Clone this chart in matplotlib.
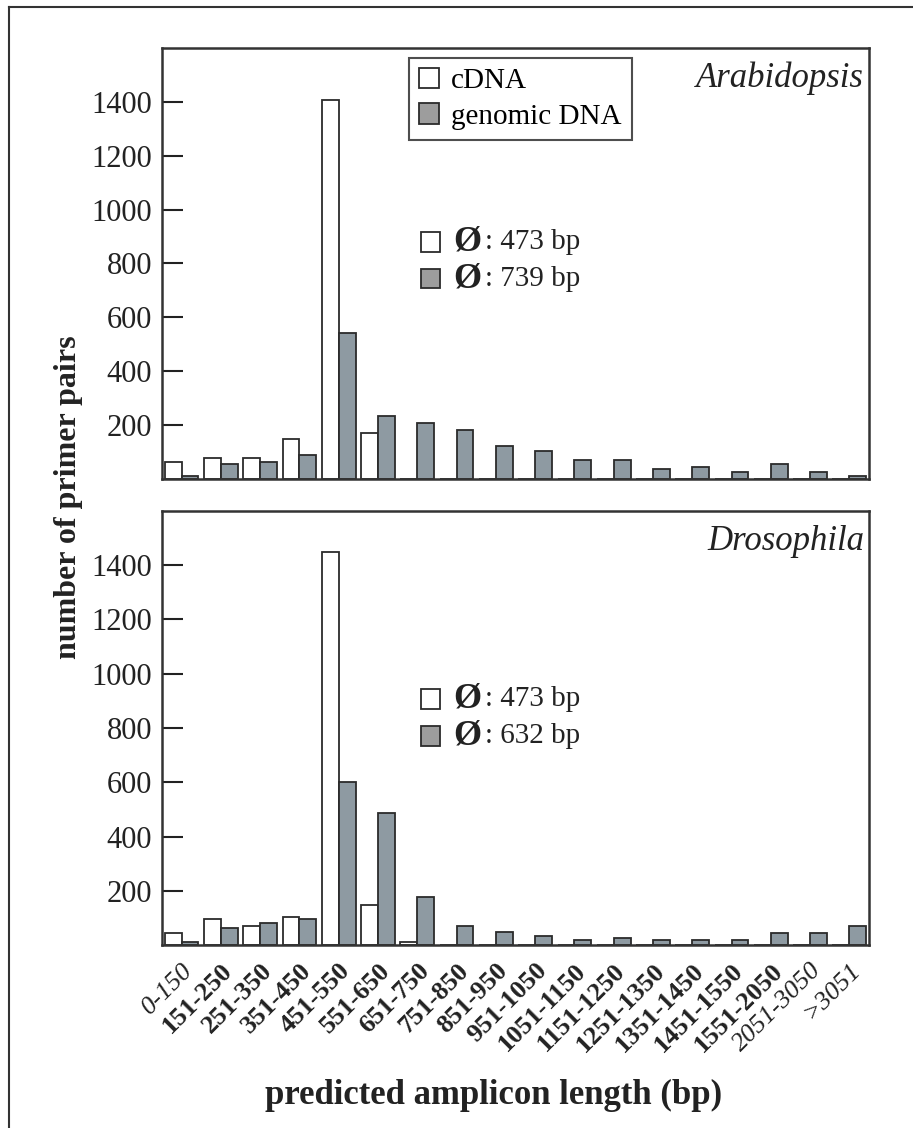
import numpy as np
import matplotlib.pyplot as plt
from matplotlib.patches import Rectangle, Patch
from matplotlib.lines import Line2D

plt.rcParams['font.family'] = ['Liberation Serif', 'DejaVu Serif']

bins = ['0-150', '151-250', '251-350', '351-450', '451-550', '551-650',
        '651-750', '751-850', '851-950', '951-1050', '1051-1150', '1151-1250',
        '1251-1350', '1351-1450', '1451-1550', '1551-2050', '2051-3050', '>3051']

arab_cdna = [62, 76, 76, 149, 1406, 172, 0, 0, 0, 0, 0, 0, 0, 0, 0, 0, 0, 0]
arab_gdna = [10, 54, 62, 90, 542, 232, 208, 180, 122, 105, 69, 69, 38, 46, 25, 54, 25, 10]
dros_cdna = [43, 95, 72, 103, 1450, 146, 12, 0, 0, 0, 0, 0, 0, 0, 0, 0, 0, 0]
dros_gdna = [12, 64, 80, 96, 602, 485, 176, 71, 49, 34, 20, 27, 20, 20, 20, 43, 43, 71]

arab_mean = [473, 739]
dros_mean = [473, 632]

gcol = '#8e9aa2'
edge = '#2b2b2b'
x = np.arange(len(bins))
w = 0.43

fig = plt.figure(figsize=(9.13, 11.28), dpi=100)
ax1 = fig.add_axes([0.1774, 0.5754, 0.7744, 0.3821])
ax2 = fig.add_axes([0.1774, 0.1622, 0.7744, 0.3848])


def draw(ax, cdna, gdna, name, means, rows_y):
    ax.bar(x - w / 2, cdna, w, color='white', edgecolor=edge, linewidth=1.3)
    ax.bar(x + w / 2, gdna, w, color=gcol, edgecolor=edge, linewidth=1.3)
    ax.set_xlim(-0.5, len(bins) - 0.5)
    ax.set_ylim(0, 1600)
    ax.set_yticks(range(200, 1401, 200))
    ax.tick_params(axis='y', direction='in', length=15, width=1.5,
                   labelsize=22, pad=7, colors='#222222')
    ax.tick_params(axis='x', length=0)
    for s in ax.spines.values():
        s.set_linewidth(1.8)
        s.set_color('#333333')
    ax.text(0.993, 0.93, name, transform=ax.transAxes, ha='right', va='center',
            fontsize=25, style='italic', color='#222222')
    # mean amplicon length boxes
    for yy, m, fc in zip(rows_y, means, ['white', '#9d9d9d']):
        ax.add_patch(Rectangle((0.366, yy - 0.023), 0.027, 0.046, transform=ax.transAxes,
                               facecolor=fc, edgecolor=edge, linewidth=1.3))
        ax.text(0.432, yy, '\u00d8', transform=ax.transAxes, ha='center', va='center',
                fontsize=26, fontweight='bold', color='#222222')
        ax.text(0.457, yy, ': %d bp' % m, transform=ax.transAxes, ha='left', va='center',
                fontsize=21, color='#222222')


draw(ax1, arab_cdna, arab_gdna, 'Arabidopsis', arab_mean, [0.550, 0.465])
draw(ax2, dros_cdna, dros_gdna, 'Drosophila', dros_mean, [0.566, 0.482])

ax1.set_xticks([])
handles = [Patch(facecolor='white', edgecolor=edge, linewidth=1.3),
           Patch(facecolor='#9d9d9d', edgecolor=edge, linewidth=1.3)]
leg = ax1.legend(handles, ['cDNA', 'genomic DNA'], loc='upper left',
                 bbox_to_anchor=(0.349, 0.977), fontsize=21, frameon=True,
                 fancybox=False, handlelength=0.7, handleheight=0.7,
                 handletextpad=0.4, borderpad=0.35, labelspacing=0.3,
                 borderaxespad=0)
leg.get_frame().set_edgecolor('#222222')
leg.get_frame().set_linewidth(1.5)

ax2.set_xticks(x)
ax2.set_xticklabels(bins, rotation=45, ha='right', va='top', rotation_mode='anchor')
ax2.tick_params(axis='x', pad=10)
for i, lab in enumerate(ax2.get_xticklabels()):
    lab.set_fontsize(19)
    lab.set_color('#222222')
    if i in (0, 16, 17):
        lab.set_style('italic')
    else:
        lab.set_fontweight('bold')

fig.text(0.0745, 0.559, 'number of primer pairs', rotation=90, ha='center', va='center',
         fontsize=23, fontweight='bold', color='#222222')
fig.text(0.541, 0.029, 'predicted amplicon length (bp)', ha='center', va='center',
         fontsize=25, fontweight='bold', color='#222222')

# outer frame (cut at right and bottom edges)
fig.add_artist(Line2D([9 / 913, 9 / 913], [-0.1, 1 - 7 / 1128], transform=fig.transFigure,
                      color='#333333', linewidth=1.5))
fig.add_artist(Line2D([9 / 913, 1.1], [1 - 7 / 1128, 1 - 7 / 1128], transform=fig.transFigure,
                      color='#333333', linewidth=1.5))

fig.savefig('out.png', dpi=100)
